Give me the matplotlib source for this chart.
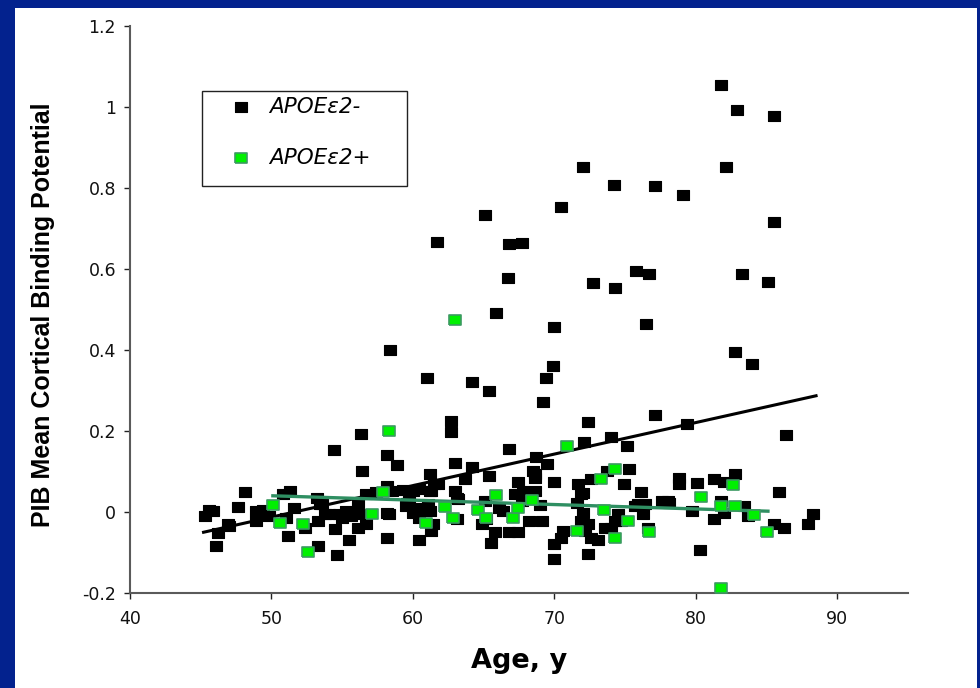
import matplotlib.pyplot as plt
from matplotlib.patches import Rectangle

# APOE e2- subjects (black squares)
neg_age = [45.3, 45.6, 45.9, 46.2, 46.1, 46.9, 47.0, 47.6, 48.1, 48.9,
           49.4, 48.9, 49.8, 50.8, 51.3, 51.0, 51.2, 51.6, 52.4, 53.2,
           53.3, 53.6, 53.3, 54.1, 54.4, 54.5, 54.6, 55.0, 55.5, 55.6,
           56.1, 56.2, 56.1, 56.3, 56.4, 56.7, 56.7, 57.4, 58.2, 58.2,
           58.3, 58.2, 58.4, 58.9, 59.3, 59.5, 59.6, 60.0, 60.4, 60.4,
           60.5, 60.4, 61.0, 61.2, 61.3, 61.3, 61.5, 61.2, 61.8, 61.7,
           62.7, 62.7, 63.0, 63.0, 63.1, 63.1, 63.2, 63.7, 64.2, 64.2,
           64.9, 65.1, 65.2, 65.4, 65.4, 65.5, 65.8, 65.9, 66.1, 66.4,
           66.8, 66.8, 66.8, 67.7, 66.7, 67.4, 67.4, 67.2, 67.7, 67.8,
           67.9, 68.2, 68.6, 68.6, 68.5, 68.7, 69.0, 69.1, 69.2, 69.4,
           69.5, 69.9, 70.0, 70.0, 70.0, 70.0, 70.5, 70.6, 70.5, 71.6,
           71.7, 71.9, 72.0, 72.0, 72.0, 72.1, 72.2, 72.4, 72.4, 72.6,
           72.6, 72.7, 73.1, 73.6, 73.7, 74.0, 74.0, 74.2, 74.3, 74.5,
           74.7, 74.9, 75.1, 75.3, 75.7, 75.8, 76.1, 76.3, 76.4, 76.5,
           76.6, 76.7, 77.1, 77.1, 77.6, 78.0, 78.1, 78.8, 78.8, 79.1,
           79.4, 79.7, 80.1, 80.3, 81.3, 81.3, 81.8, 81.8, 82.0, 82.0,
           82.1, 82.8, 82.8, 82.9, 83.3, 83.4, 83.7, 84.0, 85.1, 85.5,
           85.5, 85.5, 85.9, 86.2, 86.4, 87.9, 88.3, 60.3, 61.1, 58.2,
           60.0, 61.2, 65.1, 53.8, 54.8, 55.3, 56.0, 53.4, 58.5, 59.7,
           61.4, 67.5, 68.6, 71.9, 72.4, 74.3, 75.9]
neg_pib = [-0.010, 0.005, 0.002, -0.051, -0.083, -0.030, -0.035, 0.013, 0.050, 0.002,
           0.004, -0.022, -0.010, 0.044, 0.052, -0.014, -0.059, 0.010, -0.039, 0.035,
           -0.022, 0.019, -0.083, -0.006, 0.153, -0.043, -0.105, -0.014, -0.070, -0.010,
           -0.039, -0.006, 0.023, 0.192, 0.101, 0.044, -0.029, 0.050, 0.140, -0.065,
           -0.006, 0.064, 0.399, 0.116, 0.054, 0.015, 0.023, 0.052, -0.070, 0.056,
           0.007, -0.014, 0.331, 0.093, -0.047, 0.052, 0.070, 0.002, 0.068, 0.666,
           0.225, 0.198, 0.122, 0.052, 0.035, -0.018, 0.031, 0.081, 0.110, 0.322,
           -0.030, 0.027, -0.018, 0.298, 0.089, -0.076, -0.049, 0.492, 0.011, 0.002,
           0.155, -0.049, 0.661, 0.663, 0.577, -0.049, 0.073, 0.044, 0.027, 0.052,
           0.035, -0.022, 0.052, 0.085, 0.101, 0.136, 0.017, -0.022, 0.272, 0.331,
           0.118, 0.361, 0.456, 0.074, -0.080, -0.116, -0.064, -0.047, 0.752, 0.023,
           0.068, -0.022, -0.002, 0.048, 0.851, 0.174, -0.047, 0.221, -0.103, -0.065,
           0.081, 0.566, -0.070, -0.039, 0.101, -0.039, 0.186, 0.807, 0.554, -0.006,
           -0.022, 0.068, 0.162, 0.106, 0.015, 0.594, 0.050, -0.006, 0.019, 0.465,
           -0.039, 0.588, 0.804, 0.239, 0.026, 0.026, 0.023, 0.085, 0.068, 0.782,
           0.217, 0.002, 0.071, -0.094, 0.081, -0.018, 0.027, 1.054, 0.073, -0.002,
           0.851, 0.396, 0.093, 0.993, 0.588, 0.015, -0.010, 0.366, 0.569, 0.978,
           0.715, -0.030, 0.050, -0.040, 0.191, -0.030, -0.006, 0.011, 0.019, -0.002,
           -0.002, 0.052, 0.733, -0.006, -0.006, 0.002, -0.002, 0.019, 0.052, 0.035,
           -0.030, 0.044, 0.093, 0.044, -0.030, -0.022, 0.019]

# APOE e2+ subjects (green squares)
pos_age = [50.1, 50.6, 52.2, 52.6, 57.1, 57.9, 58.3, 60.9, 62.3, 62.8,
           63.0, 64.6, 65.2, 65.9, 67.1, 67.4, 68.4, 70.9, 71.6, 73.3,
           73.5, 74.3, 74.3, 75.2, 76.7, 80.4, 81.8, 81.8, 82.6, 82.8,
           84.1, 85.0]
pos_pib = [0.017, -0.026, -0.029, -0.098, -0.006, 0.050, 0.199, -0.026, 0.012, -0.016,
           0.475, 0.004, -0.016, 0.042, -0.014, 0.011, 0.030, 0.162, -0.047, 0.081,
           0.004, 0.106, -0.065, -0.022, -0.049, 0.037, 0.015, -0.187, 0.067, 0.015,
           -0.008, -0.049]

# regression lines as drawn in the original figure
fit_neg_age = [45.2, 88.5]
fit_neg_pib = [-0.050, 0.287]
fit_pos_age = [50.1, 85.1]
fit_pos_pib = [0.040, 0.002]

x_ticks = [40, 50, 60, 70, 80, 90]
y_ticks = [-0.2, 0, 0.2, 0.4, 0.6, 0.8, 1.0, 1.2]
y_tick_labels = ["-0.2", "0", "0.2", "0.4", "0.6", "0.8", "1", "1.2"]
labels = ["APOE\u03b52-", "APOE\u03b52+"]

blue = "#03228e"
green_fill = "#00f000"
green_edge = "#3c9a62"
green_line = "#2f8f62"

# slightly wide box marker, like the original
box = [(-0.62, -0.5), (0.62, -0.5), (0.62, 0.5), (-0.62, 0.5), (-0.62, -0.5)]

fig = plt.figure(figsize=(9.8, 6.88), dpi=100, facecolor=blue)
fig.patches.append(Rectangle((15 / 980, 0), 962 / 980, 680 / 688,
                             transform=fig.transFigure, facecolor="white",
                             edgecolor="none", zorder=-10))

ax = fig.add_axes([130 / 980, 95 / 688, 778 / 980, 567 / 688])
ax.set_facecolor("none")

s_neg = ax.scatter(neg_age, neg_pib, marker=box, s=85, c="black",
                   edgecolors="black", linewidths=0.8, zorder=2)
ax.plot(fit_neg_age, fit_neg_pib, color="black", lw=2.2, zorder=3)
ax.plot(fit_pos_age, fit_pos_pib, color=green_line, lw=2.4, zorder=3)
s_pos = ax.scatter(pos_age, pos_pib, marker=box, s=75, c=green_fill,
                   edgecolors=green_edge, linewidths=1.2, zorder=4)

ax.set_xlim(40, 95)
ax.set_ylim(-0.2, 1.2)
ax.set_xticks(x_ticks)
ax.set_yticks(y_ticks)
ax.set_yticklabels(y_tick_labels)
ax.tick_params(labelsize=12.5, length=4, width=1, color="#222222",
               labelcolor="#111111")
ax.tick_params(axis="x", pad=8)
ax.tick_params(axis="y", pad=6)

for side in ["top", "right"]:
    ax.spines[side].set_visible(False)
for side in ["left", "bottom"]:
    ax.spines[side].set_color("#5a5a5a")
    ax.spines[side].set_linewidth(1.5)

ax.set_xlabel("Age, y", fontsize=19.5, fontweight="bold", labelpad=15)
ax.set_ylabel("PIB Mean Cortical Binding Potential", fontsize=18,
              fontweight="bold", family="Liberation Sans")
ax.yaxis.set_label_coords(-0.096, 0.49)

# legend box
ax.add_patch(Rectangle((202 / 980, (688 - 186) / 688), 205 / 980, 95 / 688,
                       transform=fig.transFigure, facecolor="white",
                       edgecolor="#222222", lw=1, zorder=5, clip_on=False))
leg = ax.legend([s_neg, s_pos], labels, loc="upper left",
                bbox_to_anchor=(219 / 980, (688 - 86) / 688),
                bbox_transform=fig.transFigure, frameon=False,
                borderpad=0, handlelength=1.0, handletextpad=0.85,
                labelspacing=1.45, prop={"style": "italic", "size": 15.5},
                scatterpoints=1)
leg.set_zorder(6)

fig.savefig("out.png", dpi=100, facecolor=fig.get_facecolor())
